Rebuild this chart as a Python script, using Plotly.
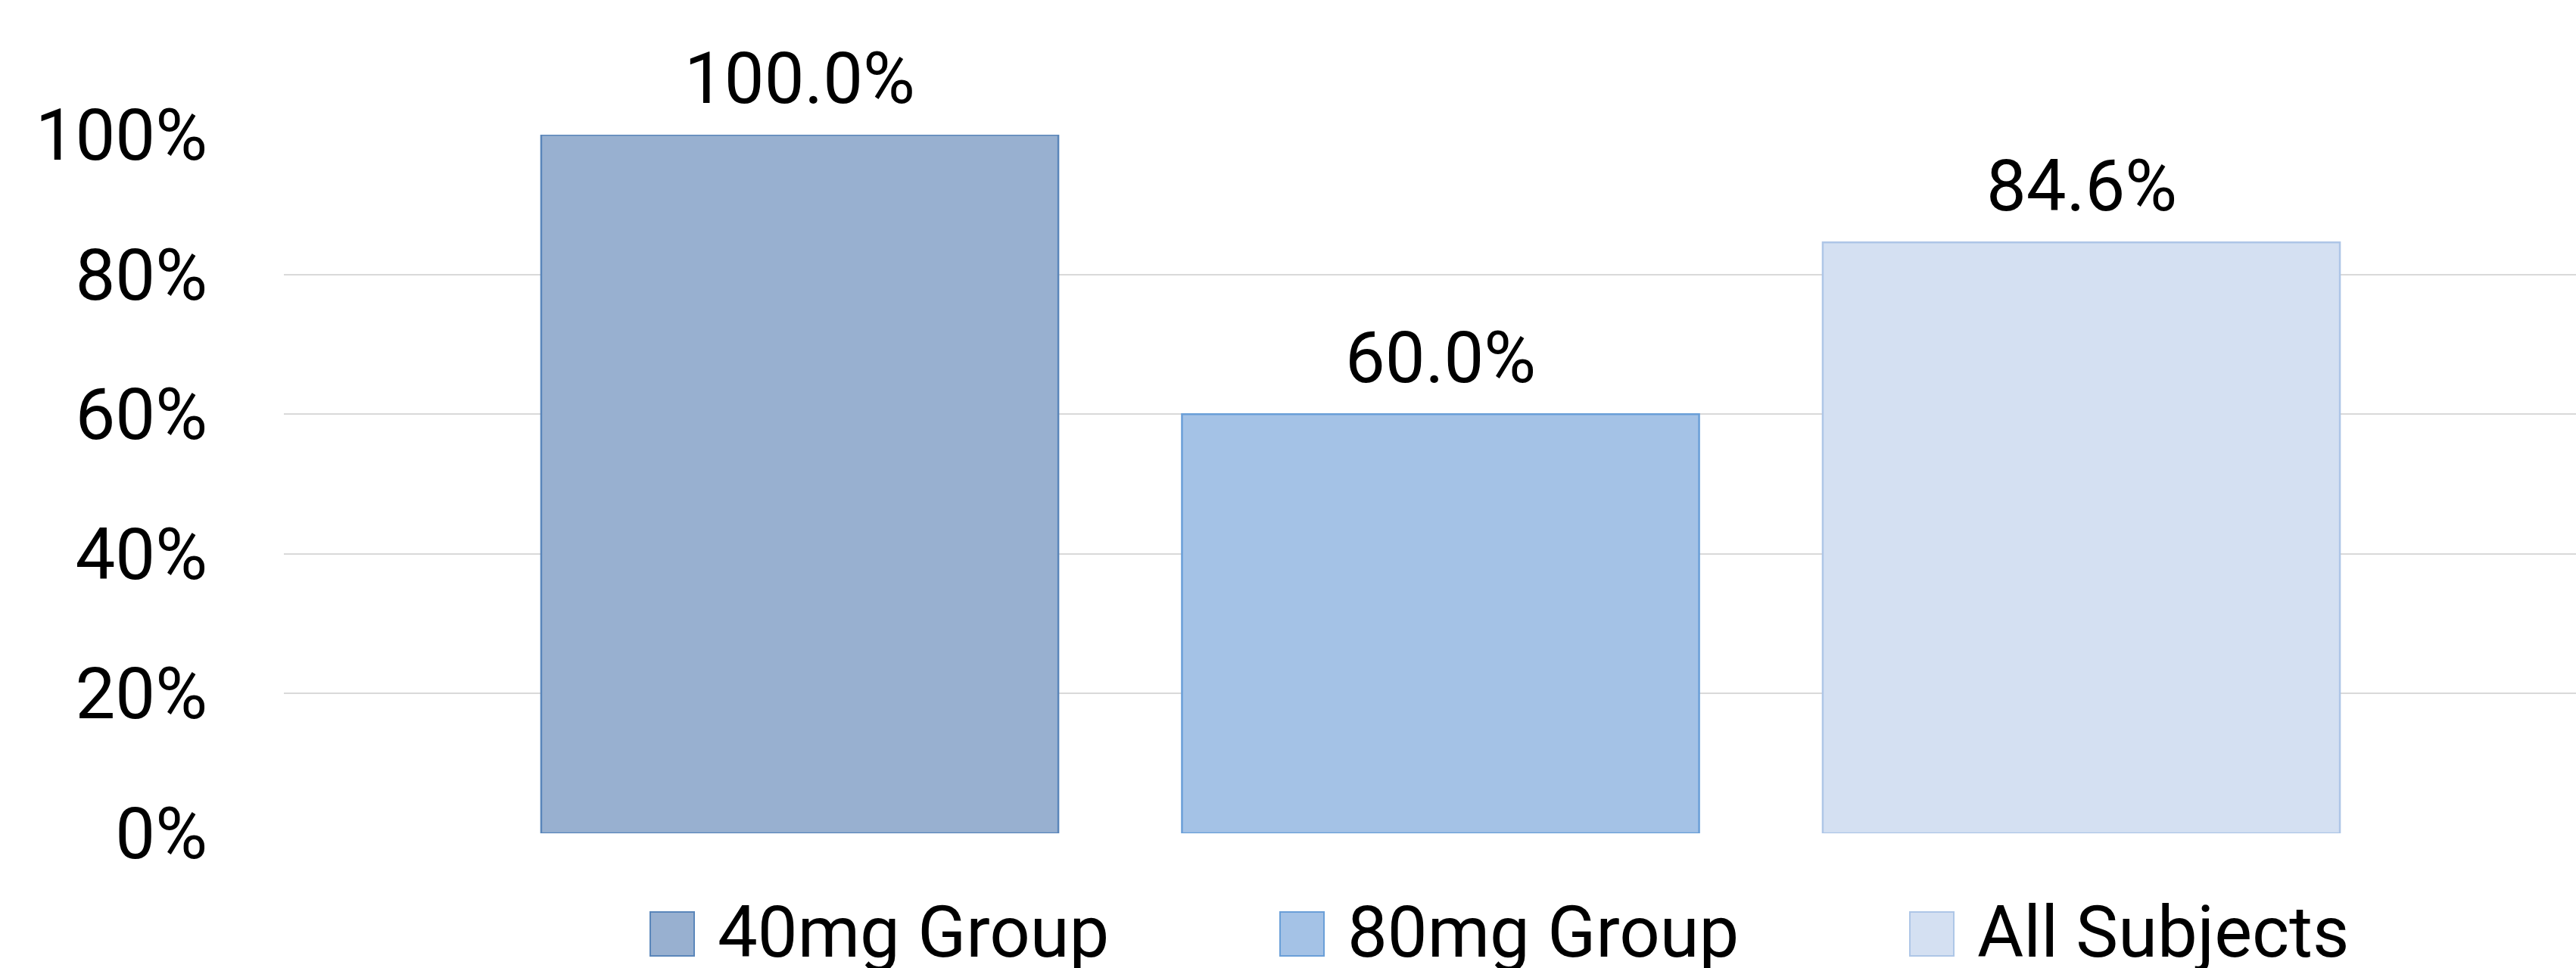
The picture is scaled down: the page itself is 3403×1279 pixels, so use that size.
import plotly.graph_objects as go

# ---- data ----
series_names = ["40mg Group", "80mg Group", "All Subjects"]
values = [1.000, 0.600, 0.846]
label_texts = ["100.0%", "60.0%", "84.6%"]
y_ticks = [0, 0.2, 0.4, 0.6, 0.8, 1.0]
y_tick_labels = ["0%", "20%", "40%", "60%", "80%", "100%"]

# ---- styles ----
fill_colors = ["#98B0D0", "#A4C2E6", "#D4E0F2"]
edge_colors = ["#5A86BA", "#6A9FD8", "#AEC6E7"]
FONT = "Roboto, 'Open Sans', Lato, sans-serif"
FS = 94
BAR_W = 0.807

W, H = 3403, 1279
ML, MT = 375, 178

fig = go.Figure()

for i, (name, v) in enumerate(zip(series_names, values)):
    fig.add_trace(go.Bar(
        x=[i], y=[v], name=name, width=BAR_W,
        marker=dict(color=fill_colors[i], line=dict(color=edge_colors[i], width=2.5)),
        showlegend=False, hoverinfo="skip",
        xaxis="x", yaxis="y",
    ))

# legend drawn on its own small axis
for i, name in enumerate(series_names):
    fig.add_trace(go.Scatter(
        x=[i], y=[0], mode="markers",
        marker=dict(symbol="square", size=58, color=fill_colors[i],
                    line=dict(color=edge_colors[i], width=2)),
        showlegend=False, hoverinfo="skip",
        xaxis="x2", yaxis="y2",
    ))

annotations = []
for i, (v, t) in enumerate(zip(values, label_texts)):
    annotations.append(dict(
        x=i, y=v, xref="x", yref="y", text=t, showarrow=False,
        xanchor="center", yanchor="bottom", yshift=17,
        font=dict(family=FONT, size=FS, color="#000000"),
    ))
for i, name in enumerate(series_names):
    annotations.append(dict(
        x=i, y=0, xref="x2", yref="y2", text=name, showarrow=False,
        xanchor="left", yanchor="middle", xshift=58, yshift=2,
        font=dict(family=FONT, size=FS, color="#000000"),
    ))

plot_h = H - MT
main_bottom = (H - 1101) / plot_h

fig.update_layout(
    width=W, height=H,
    autosize=False,
    margin=dict(l=ML, r=0, t=MT, b=0, pad=0, autoexpand=False),
    paper_bgcolor="white", plot_bgcolor="white",
    barmode="overlay",
    showlegend=False,
    font=dict(family=FONT, size=FS, color="#000000"),
    xaxis=dict(domain=[0, 1], range=[-0.8051, 2.7720], anchor="y",
               showgrid=False, zeroline=False, showline=False, automargin=False,
               showticklabels=False, ticks="", fixedrange=True),
    yaxis=dict(domain=[main_bottom, 1], range=[0, 1.0002], anchor="x",
               tickmode="array", tickvals=y_ticks, ticktext=y_tick_labels,
               showgrid=True, gridcolor="#D9D9D9", gridwidth=2,
               zeroline=False, showline=False, ticks="", automargin=False,
               ticklabelstandoff=100,
               tickfont=dict(family=FONT, size=FS, color="#000000"),
               fixedrange=True),
    xaxis2=dict(domain=[0, 1], range=[-0.6166, 3.0228], anchor="y2",
                visible=False, automargin=False),
    yaxis2=dict(domain=[0, 90 / plot_h], range=[-1, 1], anchor="x2",
                visible=False, automargin=False),
    annotations=annotations,
)

fig.write_html("out.html", config={"responsive": False})
